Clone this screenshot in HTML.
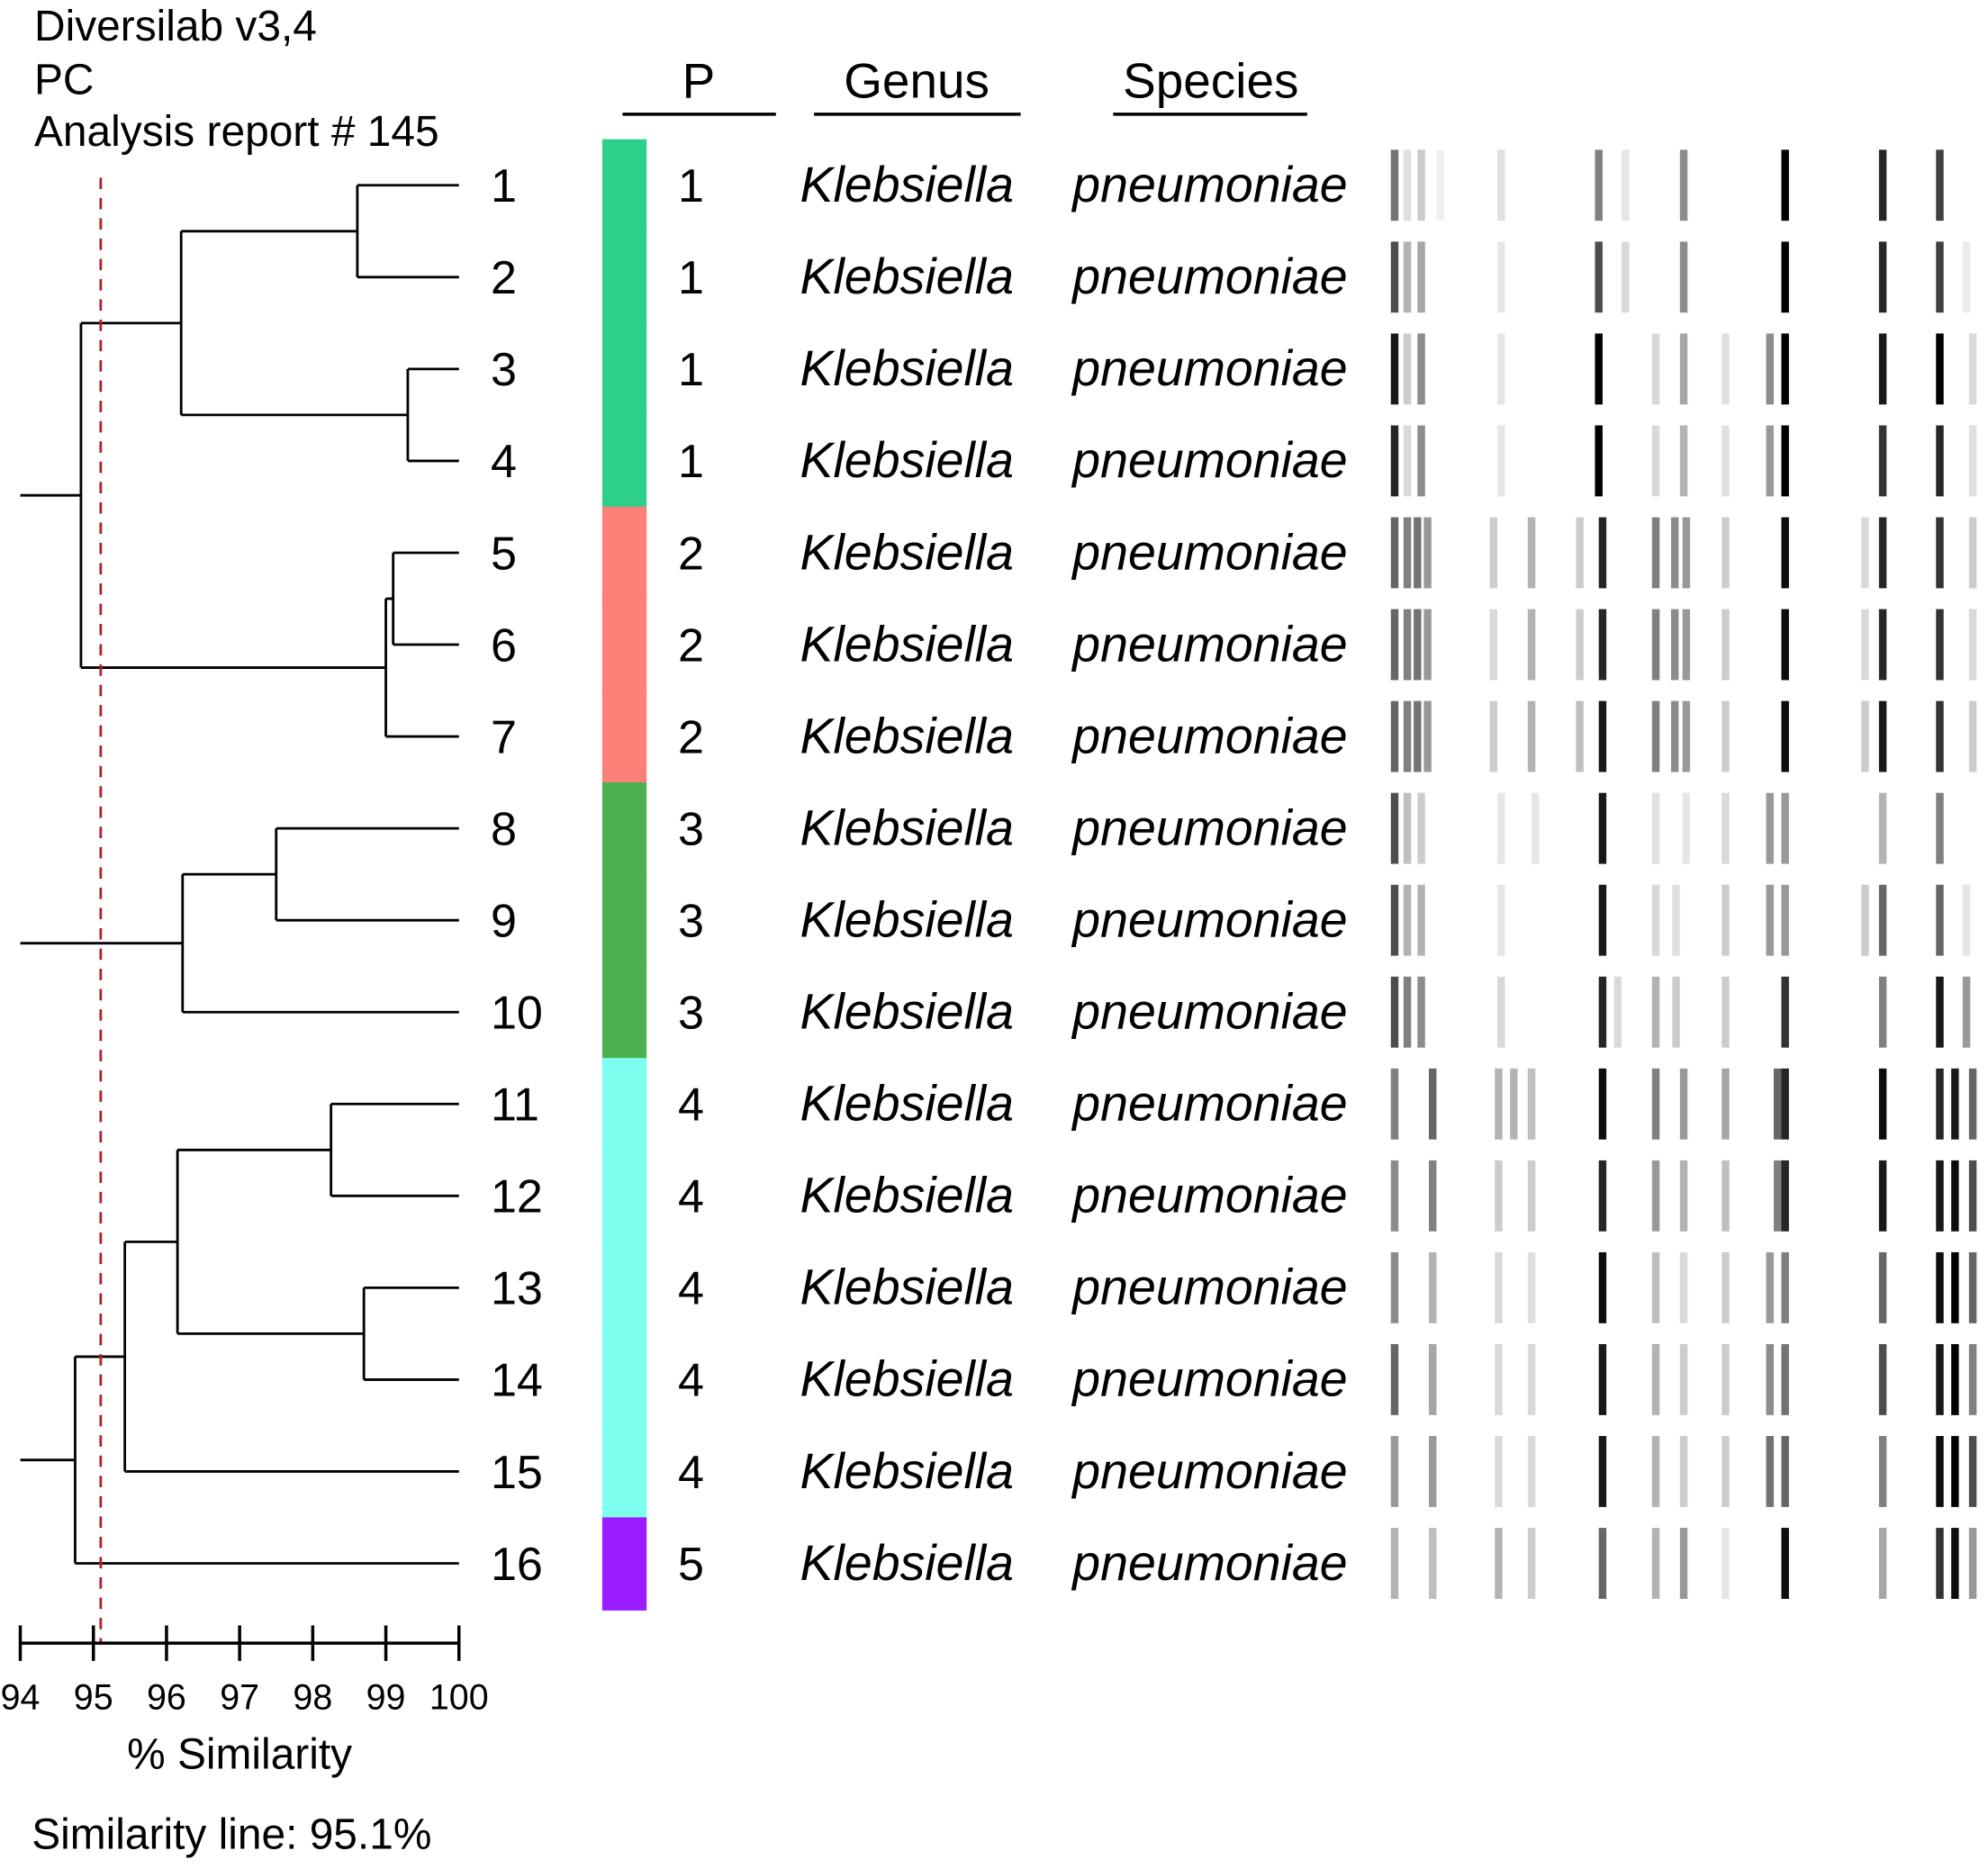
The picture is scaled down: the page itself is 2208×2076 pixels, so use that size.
<!DOCTYPE html>
<html><head><meta charset="utf-8"><style>
html,body{margin:0;padding:0;background:#fff}
svg{display:block}
text{font-family:"Liberation Sans",Arial,sans-serif;fill:#000}
</style></head><body>
<svg id="chart" xmlns="http://www.w3.org/2000/svg" width="2208" height="2076" viewBox="0 0 1568 1474">
<g font-size="34">
<text x="27" y="32">Diversilab v3,4</text>
<text x="27" y="74">PC</text>
<text x="27" y="115">Analysis report # 145</text>
</g>
<g font-size="39">
<text x="551" y="77" text-anchor="middle">P</text>
<text x="723" y="77" text-anchor="middle">Genus</text>
<text x="955" y="77" text-anchor="middle">Species</text>
<line x1="491" y1="90" x2="612" y2="90" stroke="#000" stroke-width="2.5"/>
<line x1="642" y1="90" x2="805" y2="90" stroke="#000" stroke-width="2.5"/>
<line x1="878" y1="90" x2="1031" y2="90" stroke="#000" stroke-width="2.5"/>
</g>
<g id="tree"></g>
<g id="rows"></g>
<g id="bands"></g>
<g id="axis"></g>
<text x="189" y="1395" text-anchor="middle" font-size="34">% Similarity</text>
<text x="25" y="1458" font-size="34">Similarity line: 95.1%</text>
</svg>
<script>
const NS="http://www.w3.org/2000/svg";
const isolates=["1","2","3","4","5","6","7","8","9","10","11","12","13","14","15","16"];
const patterns=[1,1,1,1,2,2,2,3,3,3,4,4,4,4,4,5];
const patternColors=["#2ecf8b","#fa8078","#4cb04e","#7dfff0","#9a1cff"];
const ticks=[94,95,96,97,98,99,100];
const similarityLine=95.1;
const merges=[
 [0,1,98.61],[2,3,99.3],["n0","n1",96.2],
 [4,5,99.1],["n3",6,99.0],["n2","n4",94.83],
 [7,8,97.5],["n6",9,96.22],
 [10,11,98.25],[12,13,98.7],["n8","n9",96.15],["n10",14,95.43],["n11",15,94.75]
];
const roots=["n5","n7","n12"];
const bandRows=[
 [[4,.55],[14,.12],[25,.2],[40,.06],[88,.12],[165,.5],[186,.1],[232,.45],[312,1],[389,.85],[434,.75]],
 [[4,.7],[14,.3],[25,.35],[88,.1],[165,.7],[186,.15],[232,.45],[312,1],[389,.85],[434,.75],[455,.08]],
 [[4,.9],[14,.2],[25,.45],[88,.1],[165,1],[210,.15],[232,.35],[265,.12],[300,.45],[312,1],[389,.9],[434,1],[460,.15]],
 [[4,.85],[14,.15],[25,.45],[88,.1],[165,1],[210,.15],[232,.3],[265,.12],[300,.4],[312,1],[389,.8],[434,.85],[460,.12]],
 [[4,.6],[14,.5],[22,.55],[30,.4],[82,.2],[112,.3],[150,.2],[168,.85],[210,.5],[225,.45],[234,.4],[265,.2],[312,.95],[375,.15],[389,.85],[434,.8],[460,.2]],
 [[4,.6],[14,.5],[22,.55],[30,.4],[82,.15],[112,.3],[150,.2],[168,.85],[210,.5],[225,.45],[234,.4],[265,.2],[312,.95],[375,.15],[389,.85],[434,.8],[460,.15]],
 [[4,.6],[14,.5],[22,.55],[30,.4],[82,.2],[112,.3],[150,.25],[168,.9],[210,.5],[225,.45],[234,.4],[265,.2],[312,.95],[375,.2],[389,.9],[434,.8],[460,.2]],
 [[4,.7],[14,.25],[25,.2],[88,.1],[115,.1],[168,.9],[210,.12],[234,.1],[265,.15],[300,.4],[312,.4],[389,.3],[434,.5]],
 [[4,.7],[14,.3],[25,.3],[88,.1],[168,.9],[210,.15],[226,.12],[265,.2],[300,.4],[312,.4],[375,.2],[389,.6],[434,.6],[455,.1]],
 [[4,.7],[14,.5],[25,.45],[88,.15],[168,.85],[180,.15],[210,.3],[226,.2],[265,.2],[312,.8],[389,.5],[434,.9],[455,.4]],
 [[4,.5],[34,.6],[86,.3],[98,.3],[112,.25],[168,.95],[210,.5],[232,.4],[265,.35],[306,.6],[312,.85],[389,.95],[434,.85],[446,.9],[460,.6]],
 [[4,.45],[34,.5],[86,.2],[112,.2],[168,.85],[210,.4],[232,.3],[265,.25],[306,.5],[312,.85],[389,.9],[434,.9],[446,.95],[460,.7]],
 [[4,.45],[34,.3],[86,.15],[112,.12],[168,.95],[210,.25],[232,.15],[265,.2],[300,.4],[312,.5],[389,.6],[434,.95],[446,1],[460,.6]],
 [[4,.6],[34,.35],[86,.15],[112,.15],[168,.9],[210,.3],[232,.2],[265,.2],[300,.45],[312,.55],[389,.7],[434,.9],[446,1],[460,.5]],
 [[4,.4],[34,.4],[86,.15],[112,.15],[168,.9],[210,.3],[232,.2],[265,.2],[300,.55],[312,.6],[389,.5],[434,.95],[446,1],[460,.7]],
 [[4,.3],[34,.25],[86,.3],[112,.2],[168,.6],[210,.3],[232,.4],[265,.1],[312,.95],[389,.35],[434,.8],[446,.95],[460,.4]]
];
const xs=v=>16+(v-94)*(346/6);
const rowY=i=>146+i*72.47;
function mk(tag,attrs,parent){const e=document.createElementNS(NS,tag);for(const k in attrs)e.setAttribute(k,attrs[k]);parent.appendChild(e);return e;}
const tree=document.getElementById('tree');
const pos={};
isolates.forEach((n,i)=>{pos[i]={x:362,y:rowY(i)};});
function seg(x1,y1,x2,y2,name){const l=mk('line',{x1,y1,x2,y2,stroke:'#000','stroke-width':2},tree);

}
merges.forEach((m,k)=>{
 const a=pos[m[0]],b=pos[m[1]],x=xs(m[2]);
 seg(x,a.y,a.x,a.y,'branch');seg(x,b.y,b.x,b.y,'branch');seg(x,a.y,x,b.y,'node-'+k);
 pos['n'+k]={x:x,y:(a.y+b.y)/2};
});
roots.forEach(r=>seg(16,pos[r].y,pos[r].x,pos[r].y,'root-stub'));
const sl=mk('line',{x1:xs(similarityLine),y1:140,x2:xs(similarityLine),y2:1296,stroke:'#b22222','stroke-width':2,'stroke-dasharray':'9,7'},tree);


const rows=document.getElementById('rows');
isolates.forEach((n,i)=>{
 const y=rowY(i);
 const g=mk('g',{},rows);
 
 
 const t=mk('text',{x:387,y:y+13,'font-size':37},g);t.textContent=n;
 
 
 const r=mk('rect',{x:475,y:y-36.3,width:35,height:73.5,fill:patternColors[patterns[i]-1]},g);
 
 
 const p=mk('text',{x:545,y:y+13,'font-size':37,'text-anchor':'middle'},g);p.textContent=patterns[i];
 
 
 const ge=mk('text',{x:631,y:y+13,'font-size':39.4,'font-style':'italic'},g);ge.textContent='Klebsiella';
 
 
 const sp=mk('text',{x:846,y:y+13,'font-size':39.4,'font-style':'italic'},g);sp.textContent='pneumoniae';
 
 
});
const bands=document.getElementById('bands');
bandRows.forEach((row,i)=>{
 const y=rowY(i);
 row.forEach(b=>{
  const c=Math.round(255*(1-b[1]));
  const r=mk('rect',{x:1093+b[0],y:y-28,width:6,height:56,fill:`rgb(${c},${c},${c})`},bands);
  
  
 });
});
const ax=document.getElementById('axis');
mk('line',{x1:16,y1:1296,x2:362,y2:1296,stroke:'#000','stroke-width':2.5},ax);
ticks.forEach(t=>{
 const x=xs(t);
 const l=mk('line',{x1:x,y1:1282,x2:x,y2:1310,stroke:'#000','stroke-width':2.5},ax);
 
 
 const tx=mk('text',{x:x,y:1348,'font-size':28,'text-anchor':'middle'},ax);tx.textContent=t;
 
 
});
</script>
</body></html>
